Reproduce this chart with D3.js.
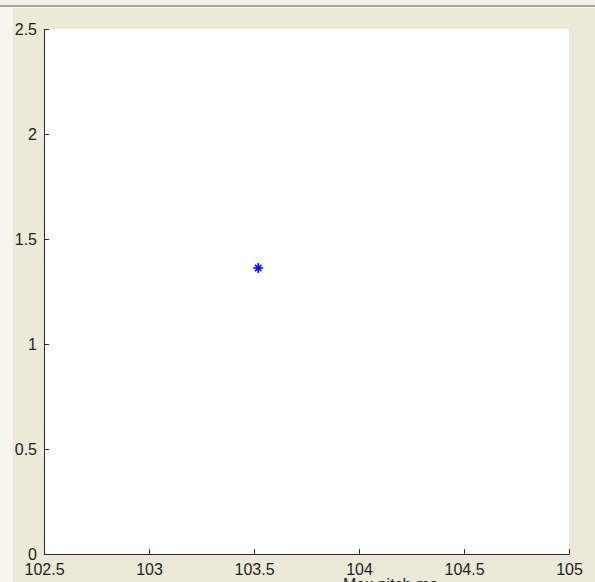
<html>
  <head>
    <script src="https://cdnjs.cloudflare.com/ajax/libs/d3/7.8.5/d3.min.js"></script>
    <style>
      body { margin: 0; background: #ece9d8; }
      svg { display: block; }
      .tick text { font-family: "Liberation Sans", Arial, sans-serif; font-size: 16px; fill: #1e1e1e; }
      .domain, .tick line { stroke: #2a2a2a; }
    </style>
  </head>
  <body>
    <script>
      // data
      const pitchX = [103.52];
      const pitchY = [1.362];
      const xTicks = [102.5, 103, 103.5, 104, 104.5, 105];
      const yTicks = [0, 0.5, 1, 1.5, 2, 2.5];
      const xLabel = "Max pitch mo";

      const w = 595;
      const h = 582;

      const svg = d3.select("body").append("svg")
        .attr("width", w)
        .attr("height", h);

      // window chrome: beige figure, light strip above a grey rule, white left edge
      svg.append("rect").attr("width", w).attr("height", h).attr("fill", "#ece9d8");
      svg.append("rect").attr("width", w).attr("height", 5).attr("fill", "#f1efe6");
      svg.append("rect").attr("y", 5).attr("width", w).attr("height", 2).attr("fill", "#a3a3a0");
      svg.append("rect").attr("y", 7).attr("width", w).attr("height", 1).attr("fill", "#f7f6f0");
      svg.append("rect").attr("y", 8).attr("width", 13).attr("height", h - 8).attr("fill", "#f6f5ef");

      const x = d3.scaleLinear().domain([102.5, 105]).range([44, 569]);
      const y = d3.scaleLinear().domain([0, 2.5]).range([554, 29]);

      // axes area
      svg.append("rect")
        .attr("x", x(102.5))
        .attr("y", y(2.5))
        .attr("width", x(105) - x(102.5))
        .attr("height", y(0) - y(2.5))
        .attr("fill", "#ffffff");

      const xAxis = d3.axisBottom(x)
        .tickValues(xTicks)
        .tickFormat(d3.format(""))
        .tickSizeInner(-5)
        .tickSizeOuter(0)
        .tickPadding(10);

      const yAxis = d3.axisLeft(y)
        .tickValues(yTicks)
        .tickFormat(d3.format(""))
        .tickSizeInner(-5)
        .tickSizeOuter(0)
        .tickPadding(7);

      svg.append("g")
        .attr("transform", "translate(0," + y(0) + ")")
        .call(xAxis);

      svg.append("g")
        .attr("transform", "translate(" + x(102.5) + ",0)")
        .call(yAxis);

      svg.selectAll(".tick line").attr("stroke", "#2a2a2a");
      svg.selectAll(".tick text").attr("fill", "#1e1e1e");

      // x label, cut by the window's bottom edge
      svg.append("text")
        .attr("x", 343)
        .attr("y", 590)
        .attr("font-family", "Liberation Sans, Arial, sans-serif")
        .attr("font-size", 16)
        .attr("fill", "#1e1e1e")
        .text(xLabel);

      // '*' marker
      const star = svg.append("g").selectAll("g")
        .data(pitchX.map((v, i) => [v, pitchY[i]]))
        .enter()
        .append("g")
        .attr("transform", (d) => "translate(" + x(d[0]) + "," + y(d[1]) + ")")
        .attr("stroke", "#0000ff")
        .attr("stroke-width", 1.6);
      const r = 5;
      star.append("line").attr("x1", -r).attr("x2", r);
      star.append("line").attr("y1", -r).attr("y2", r);
      star.append("line").attr("x1", -r * 0.65).attr("y1", -r * 0.65).attr("x2", r * 0.65).attr("y2", r * 0.65);
      star.append("line").attr("x1", -r * 0.65).attr("y1", r * 0.65).attr("x2", r * 0.65).attr("y2", -r * 0.65);
    </script>
  </body>
</html>
